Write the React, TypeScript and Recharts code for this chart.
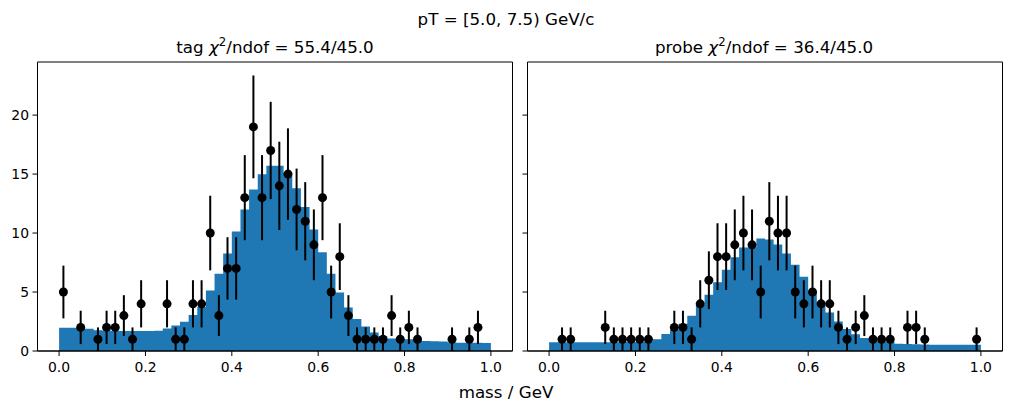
import { ComposedChart, Area, Scatter, ErrorBar, XAxis, YAxis, ReferenceArea } from "recharts";

// bin edges of the mass histogram (GeV)
const binEdges = [
  0.0, 0.02, 0.04, 0.06, 0.08, 0.1, 0.12, 0.14, 0.16, 0.18,
  0.2, 0.22, 0.24, 0.26, 0.28, 0.3, 0.32, 0.34, 0.36, 0.38,
  0.4, 0.42, 0.44, 0.46, 0.48, 0.5, 0.52, 0.54, 0.56, 0.58,
  0.6, 0.62, 0.64, 0.66, 0.68, 0.7, 0.72, 0.74, 0.76, 0.78,
  0.8, 0.82, 0.84, 0.86, 0.88, 0.9, 0.92, 0.94, 0.96, 0.98, 1.0,
];

// fitted model per bin
const tagModel = [
  1.98, 1.97, 1.93, 1.88, 1.75, 1.73, 1.72, 1.7, 1.7, 1.7,
  1.7, 1.72, 1.9, 2.16, 2.47, 3.06, 3.72, 5.13, 6.55, 8.26,
  10.13, 12.0, 13.7, 14.98, 15.7, 15.7, 15.1, 13.8, 12.2, 10.3,
  8.37, 6.55, 4.96, 3.69, 2.72, 2.07, 1.56, 1.28, 1.05, 1.02,
  1.0, 0.97, 0.85, 0.82, 0.8, 0.72, 0.71, 0.7, 0.69, 0.68,
];
const probeModel = [
  0.75, 0.75, 0.75, 0.75, 0.75, 0.75, 0.75, 0.75, 0.76, 0.76,
  0.77, 0.8, 1.0, 1.45, 1.79, 2.3, 2.98, 3.91, 4.77, 5.82,
  6.89, 7.94, 8.77, 8.8, 9.53, 9.45, 9.02, 8.26, 7.32, 6.3,
  5.05, 4.2, 3.26, 2.5, 1.87, 1.42, 1.1, 0.88, 0.82, 0.78,
  0.62, 0.6, 0.58, 0.55, 0.52, 0.52, 0.52, 0.52, 0.52, 0.52,
];

// observed counts per bin
const tagCounts = [
  5, 0, 2, 0, 1, 2, 2, 3, 1, 4,
  0, 0, 4, 1, 1, 4, 4, 10, 3, 7,
  7, 13, 19, 13, 17, 14, 15, 12, 11, 9,
  13, 5, 8, 3, 1, 1, 1, 1, 3, 1,
  2, 1, 0, 0, 0, 1, 0, 1, 2, 0,
];
const probeCounts = [
  0, 1, 1, 0, 0, 0, 2, 1, 1, 1,
  1, 1, 0, 0, 2, 2, 1, 4, 6, 8,
  8, 9, 10, 9, 5, 11, 10, 10, 5, 4,
  5, 4, 4, 2, 1, 2, 3, 1, 1, 1,
  0, 2, 2, 1, 0, 0, 0, 0, 0, 1,
];

const xTicks = [0, 0.2, 0.4, 0.6, 0.8, 1.0];
const yTicks = [0, 5, 10, 15, 20];

const FONT = "DejaVu Sans";
const BLUE = "#1f77b4";
const X_DOMAIN = [-0.05, 1.05];
const Y_DOMAIN = [0, 24.5];

const histData = (model: number[]) =>
  binEdges.map((x, i) => ({ x, h: model[Math.min(i, model.length - 1)] }));

const pointData = (counts: number[]) =>
  counts
    .map((n, i) => ({ x: (binEdges[i] + binEdges[i + 1]) / 2, n, e: Math.sqrt(n) }))
    .filter((p) => p.n > 0);

const Dot = (props: any) => <circle cx={props.cx} cy={props.cy} r={4.5} fill="black" />;

interface PanelProps {
  model: number[];
  counts: number[];
  left: number;
  width: number;
  yAxisWidth: number;
  marginLeft: number;
  marginRight: number;
  showYLabels: boolean;
}

function Panel({ model, counts, left, width, yAxisWidth, marginLeft, marginRight, showYLabels }: PanelProps) {
  const tickStyle = { fill: "black", fontSize: 13.9, fontFamily: FONT };
  return (
    <div style={{ position: "absolute", left, top: 0 }}>
      <ComposedChart
        width={width}
        height={411}
        data={histData(model)}
        margin={{ top: 62, right: marginRight, bottom: 30, left: marginLeft }}
      >
        <XAxis
          type="number"
          dataKey="x"
          domain={X_DOMAIN}
          ticks={xTicks}
          allowDataOverflow
          tickFormatter={(v: number) => v.toFixed(1)}
          tickSize={5}
          tickMargin={6}
          height={30}
          axisLine={{ stroke: "black" }}
          tickLine={{ stroke: "black" }}
          tick={tickStyle}
        />
        <YAxis
          type="number"
          domain={Y_DOMAIN}
          ticks={yTicks}
          allowDataOverflow
          width={yAxisWidth}
          tickSize={5}
          tickMargin={3.5}
          tickFormatter={(v: number) => (showYLabels ? String(v) : "")}
          axisLine={{ stroke: "black" }}
          tickLine={{ stroke: "black" }}
          tick={tickStyle}
        />
        <Area
          type="stepAfter"
          dataKey="h"
          fill={BLUE}
          fillOpacity={1}
          stroke="none"
          dot={false}
          activeDot={false}
          isAnimationActive={false}
        />
        <Scatter data={pointData(counts)} dataKey="n" shape={Dot} isAnimationActive={false}>
          <ErrorBar dataKey="e" direction="y" width={0} stroke="black" strokeWidth={2} />
        </Scatter>
        <ReferenceArea
          x1={X_DOMAIN[0]}
          x2={X_DOMAIN[1]}
          y1={Y_DOMAIN[0]}
          y2={Y_DOMAIN[1]}
          fill="none"
          stroke="black"
          strokeWidth={1}
        />
      </ComposedChart>
    </div>
  );
}

function Title({ x, y, label, chi }: { x: number; y: number; label: string; chi: string }) {
  return (
    <text x={x} y={y} textAnchor="middle" fontSize={16.7} fontFamily={FONT} fill="black">
      {label} <tspan fontStyle="italic">χ</tspan>
      <tspan dy={-7} fontSize={11.7}>2</tspan>
      <tspan dy={7}>/ndof = {chi}</tspan>
    </text>
  );
}

export default function App() {
  return (
    <div style={{ position: "absolute", left: 0, top: 0, width: 1011, height: 411, background: "white" }}>
      <Panel
        model={tagModel}
        counts={tagCounts}
        left={0}
        width={520}
        yAxisWidth={30}
        marginLeft={7.5}
        marginRight={7.5}
        showYLabels
      />
      <Panel
        model={probeModel}
        counts={probeCounts}
        left={520}
        width={491}
        yAxisWidth={7.5}
        marginLeft={0}
        marginRight={8.5}
        showYLabels={false}
      />
      <svg
        width={1011}
        height={411}
        style={{ position: "absolute", left: 0, top: 0, pointerEvents: "none" }}
      >
        <text x={506} y={25} textAnchor="middle" fontSize={16.7} fontFamily={FONT} fill="black">
          pT = [5.0, 7.5) GeV/c
        </text>
        <Title x={275} y={53} label="tag" chi="55.4/45.0" />
        <Title x={764} y={53} label="probe" chi="36.4/45.0" />
        <text x={506} y={398} textAnchor="middle" fontSize={16.7} fontFamily={FONT} fill="black">
          mass / GeV
        </text>
      </svg>
    </div>
  );
}
